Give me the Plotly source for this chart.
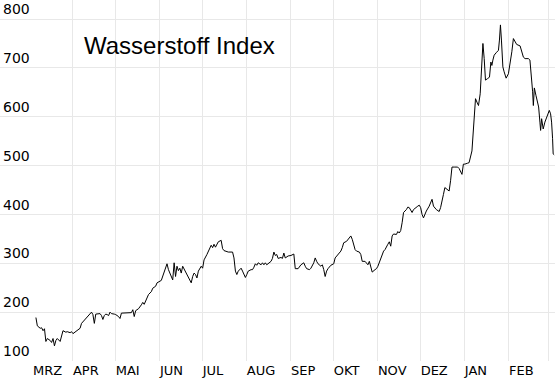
import pandas as pd
import plotly.graph_objects as go

# Data: days since 2020-03-01 and index values
day_offsets = [
    5, 6, 8, 9, 10, 11, 12, 13, 15, 16, 17, 18, 19, 20, 22, 23, 24, 26, 27, 29,
    30, 31, 33, 34, 36, 37, 39, 41, 43, 44, 45, 46, 47, 48, 50, 51, 52, 53, 54, 55,
    56, 57, 58, 60, 61, 63, 64, 65, 67, 69, 72, 73, 74, 75, 77, 79, 80, 81, 82, 84,
    86, 87, 89, 90, 93, 94, 95, 96, 97, 98, 100, 101, 102, 103, 104, 105, 106, 107, 108, 110,
    112, 114, 115, 116, 117, 118, 119, 121, 122, 123, 125, 126, 128, 129, 130, 131, 132, 133, 135, 136,
    137, 138, 140, 143, 144, 145, 146, 147, 149, 150, 151, 152, 153, 154, 156, 157, 158, 159, 160, 161,
    163, 164, 165, 166, 167, 168, 170, 171, 172, 173, 174, 175, 177, 178, 179, 180, 181, 182, 184, 185,
    186, 187, 189, 191, 193, 194, 195, 197, 198, 200, 201, 202, 203, 205, 206, 207, 208, 209, 210, 212,
    213, 214, 215, 216, 217, 219, 220, 221, 223, 224, 226, 227, 228, 229, 230, 232, 233, 234, 236, 237,
    238, 239, 240, 241, 243, 244, 245, 246, 247, 248, 249, 250, 251, 252, 253, 254, 255, 256, 258, 259,
    260, 261, 262, 263, 265, 266, 267, 269, 270, 271, 273, 274, 275, 276, 277, 279, 281, 283, 284, 286,
    288, 289, 290, 291, 292, 295, 296, 297, 299, 301, 302, 304, 305, 306, 308, 309,
    311.0, 311.7, 312.6, 313.5, 314.5, 315.6, 316.8, 317.5, 318.0, 318.7, 319.6, 320.5, 321.9, 323.3,
    324.3, 325.0, 325.7, 326.6, 328.0, 329.6, 330.3, 331.0, 331.7, 332.7, 333.6, 335.0, 336.6, 337.8,
    339.0, 340.1, 341.3, 342.4, 344.8, 345.9, 347.1, 348.3, 350.6, 351.7, 352.9, 353.6, 354.1, 354.8,
    355.9, 356.9, 357.8, 358.7, 359.2, 359.9, 360.6, 361.0, 362.2, 363.4, 365.3, 366.2, 366.9, 367.6,
    368.0, 368.7,
]
index_values = [
    189, 172, 167, 168, 162, 166, 140, 146, 142, 138, 146, 131, 142, 146, 140, 154, 162, 159, 160, 158,
    160, 156, 160, 162, 167, 177, 184, 189, 196, 200, 195, 177, 196, 196, 197, 193, 185, 193, 196, 195,
    193, 200, 197, 196, 195, 191, 187, 198, 198, 199, 199, 205, 191, 203, 207, 215, 220, 216, 223, 236,
    242, 249, 253, 260, 265, 273, 284, 290, 299, 287, 273, 266, 301, 273, 294, 285, 290, 280, 294, 283,
    270, 260, 273, 280, 277, 270, 284, 294, 290, 307, 318, 325, 337, 332, 339, 333, 340, 344, 347, 330,
    326, 325, 323, 323, 311, 284, 277, 284, 290, 284, 277, 271, 277, 284, 287, 287, 292, 299, 296, 301,
    297, 301, 297, 301, 297, 299, 304, 310, 323, 316, 318, 310, 312, 310, 321, 311, 314, 315, 316, 318,
    319, 289, 289, 297, 301, 294, 289, 287, 290, 301, 311, 304, 299, 294, 297, 287, 273, 284, 289, 296,
    297, 299, 311, 314, 319, 325, 332, 342, 345, 349, 356, 349, 339, 328, 325, 323, 318, 304, 304, 301,
    297, 304, 292, 282, 287, 289, 294, 301, 310, 318, 325, 328, 335, 339, 344, 335, 356, 360, 359, 365,
    362, 367, 383, 404, 410, 415, 414, 404, 410, 413, 417, 419, 414, 400, 393, 407, 417, 431, 417, 410,
    406, 414, 431, 441, 455, 448, 469, 497, 497, 497, 494, 482, 503, 503, 505, 506,
    530, 565, 606, 637, 630, 623, 647, 692, 733, 750, 719, 675, 678, 681,
    712, 705, 716, 726, 731, 736, 757, 788, 757, 702, 692, 679, 688, 707,
    733, 760, 753, 748, 745, 736, 722, 719, 719, 716, 678, 651, 623, 659,
    644, 633, 620, 589, 572, 596, 582, 575, 589, 599, 613, 606, 589, 555,
    524, 522,
]

month_labels = ["MRZ", "APR", "MAI", "JUN", "JUL", "AUG", "SEP", "OKT", "NOV", "DEZ", "JAN", "FEB"]
label_dates = ["2020-03-04", "2020-04-01", "2020-05-01", "2020-06-01", "2020-07-01", "2020-08-01",
               "2020-09-01", "2020-10-01", "2020-11-01", "2020-12-01", "2021-01-01", "2021-02-01"]
grid_dates = ["2020-04-01", "2020-05-01", "2020-06-01", "2020-07-01", "2020-08-01", "2020-09-01",
              "2020-10-01", "2020-11-01", "2020-12-01", "2021-01-01", "2021-02-01", "2021-03-01"]
y_ticks = [100, 200, 300, 400, 500, 600, 700, 800]

dates = pd.Timestamp("2020-03-01") + pd.to_timedelta(day_offsets, unit="D")

fig = go.Figure()
fig.add_trace(go.Scatter(x=dates, y=index_values, mode="lines",
                         line=dict(color="black", width=1), hoverinfo="skip"))

grid_color = "#e8e8e8"
fig.update_layout(
    width=557, height=381,
    margin=dict(l=0, r=2, t=0, b=20),
    paper_bgcolor="white", plot_bgcolor="white",
    showlegend=False,
    xaxis=dict(
        range=["2020-02-09 19:00", "2021-03-05 07:00"],
        tickmode="array", tickvals=label_dates, ticktext=month_labels,
        ticklabelposition="outside right",
        showgrid=False, ticks="", zeroline=False, showline=False,
        tickfont=dict(family="DejaVu Sans", size=13, color="black"),
        minor=dict(tickmode="array", tickvals=grid_dates, showgrid=True,
                   gridcolor=grid_color, gridwidth=1, ticks=""),
    ),
    yaxis=dict(
        range=[100, 839],
        tickmode="array", tickvals=y_ticks, ticktext=[str(v) for v in y_ticks],
        ticklabelposition="inside top",
        showgrid=True, gridcolor=grid_color, gridwidth=1,
        ticks="", zeroline=False, showline=False,
        tickfont=dict(family="DejaVu Sans", size=14, color="black"),
    ),
    shapes=[dict(
        type="line", xref="paper", yref="y", x0=0, x1=33 / 555, y0=y_ticks[0], y1=y_ticks[0],
        line=dict(color="white", width=3), layer="between",
    )],
    annotations=[dict(
        text="Wasserstoff Index", xref="paper", yref="paper",
        x=82 / 555, y=1 - 45 / 361, xanchor="left", yanchor="middle",
        showarrow=False, font=dict(family="Liberation Sans", size=24, color="black"),
    )],
)

fig.write_html("out.html", config={"displayModeBar": False},
               post_script="document.body.style.margin='0';")
